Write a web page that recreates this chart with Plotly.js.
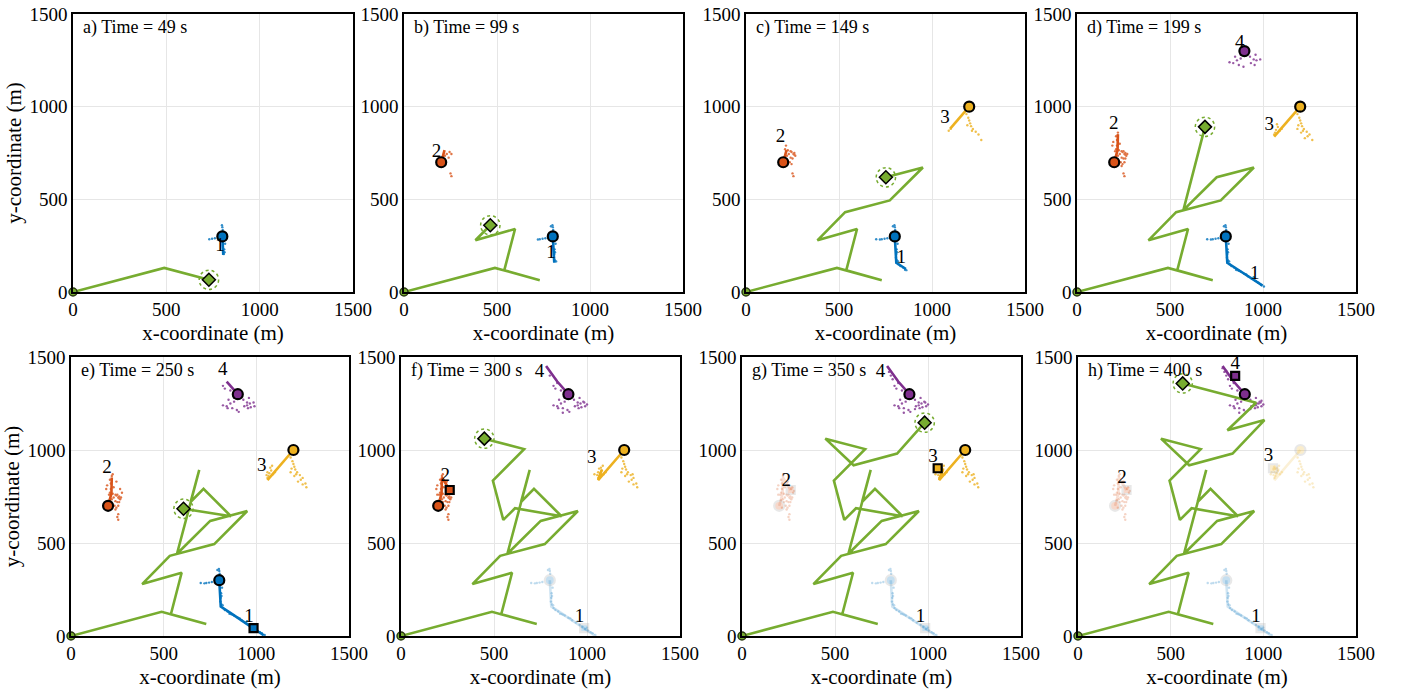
<!DOCTYPE html>
<html>
<head>
<meta charset="utf-8">
<script src="https://cdn.plot.ly/plotly-3.0.1.min.js"></script>
<style>html,body{margin:0;padding:0;background:#fff}#chart{width:1405px;height:694px}</style>
</head>
<body>
<div id="chart"></div>
<script>
// ---------- data ----------
const panelLetters = ['a','b','c','d','e','f','g','h'];
const panelTimes = [49, 99, 149, 199, 250, 300, 350, 400];
const tickVals = [0, 500, 1000, 1500];

// UAV path waypoints (full flight)
const pathX = [0, 489, 730, 539, 597, 384, 533, 773, 951, 751, 572, 692, 646, 715, 863, 613, 550, 494, 662, 448, 600, 834, 1006, 806, 961, 565];
const pathY = [0, 130, 64, 117, 340, 279, 431, 494, 672, 619, 442, 893, 722, 791, 644, 687, 624, 835, 1005, 1061, 918, 981, 1161, 1106, 1254, 1358];
// waypoints already flown in each panel and current UAV position
const pathVisited = [2, 6, 9, 11, 15, 19, 22, 25];
const uavX = [728, 464, 752, 688, 607, 448, 982, 565];
const uavY = [66, 360, 619, 891, 684, 1061, 1147, 1358];

// targets (true positions)
const targetX = [800, 200, 1200, 900];
const targetY = [300, 700, 1000, 1300];
const targetNames = ['1', '2', '3', '4'];
const targetColors = ['#0072BD', '#D95319', '#EDB120', '#7E2F8E'];
const targetAppear = [0, 1, 2, 3];   // first panel index where a target shows
const targetFade = [5, 6, 7, 99];    // first panel index where a target is faded

// estimated tracks
const track1X = [800, 805, 808, 860, 998, 1040];
const track1Y = [300, 200, 158, 124, 34, 4];
const track1Count = [2, 3, 4, 5, 6, 6, 6, 6];
const track2X = [200, 218, 220, 262];
const track2Y = [700, 765, 852, 785];
const track2Count = [0, 2, 2, 3, 3, 4, 4, 4];
const track3X = [1200, 1098, 1060, 1080, 1050];
const track3Y = [1000, 882, 838, 895, 905];
const track3Count = [0, 0, 2, 3, 3, 4, 5, 5];
const track4X = [900, 840, 780];
const track4Y = [1300, 1368, 1452];
const track4Count = [0, 0, 0, 1, 2, 3, 3, 3];

// localisation squares
const squareX = [985, 262, 1052, 848];
const squareY = [42, 785, 902, 1399];
const squarePanel = [4, 5, 6, 7];

// target number label positions per panel (null = not shown)
const label1X = [787, 790, 835, 955, 960, 960, 960, 960];
const label1Y = [245, 210, 180, 95, 100, 100, 100, 100];
const label2X = [null, 175, 186, 197, 194, 238, 238, 237];
const label2Y = [null, 756, 835, 905, 900, 860, 833, 848];
const label3X = [null, null, 1070, 1034, 1029, 1026, 1027, 1028];
const label3Y = [null, null, 935, 900, 910, 958, 959, 965];
const label4X = [null, null, null, 875, 819, 745, 744, 848];
const label4Y = [null, null, null, 1342, 1427, 1419, 1416, 1459];

// particle clouds (chronological) and how many are shown per panel
const part1X = [800, 802, 798, 760, 745, 730, 810, 812, 808, 815, 812, 818, 806, 790, 720, 830, 845, 855, 862, 820, 700, 880, 900, 920, 940, 960, 975, 990, 870, 910, 950, 1005, 1030, 1045, 1020, 1000];
const part1Y = [350, 335, 360, 290, 287, 285, 230, 215, 205, 260, 170, 165, 185, 355, 283, 140, 132, 120, 118, 150, 285, 110, 98, 85, 72, 60, 50, 38, 115, 95, 80, 30, 15, 5, 20, 45];
const part1Count = [10, 15, 21, 32, 36, 36, 36, 36];
const part2X = [230, 245, 255, 220, 240, 250, 255, 210, 215, 225, 240, 260, 265, 250, 235, 245, 260, 215, 210, 220, 195, 190, 230, 250, 270, 255, 240, 260, 205, 225, 245, 265, 275, 210, 255, 245, 270, 280, 195, 225, 215];
const part2Y = [745, 755, 745, 735, 725, 640, 625, 770, 790, 765, 760, 740, 735, 720, 700, 690, 750, 820, 840, 860, 810, 790, 800, 760, 745, 700, 680, 720, 760, 870, 830, 790, 770, 730, 655, 830, 800, 780, 760, 720, 690];
const part2Count = [0, 7, 17, 29, 35, 41, 41, 41];
const part3X = [1185, 1195, 1200, 1205, 1210, 1220, 1235, 1250, 1265, 1190, 1215, 1100, 1090, 1060, 1070, 1080, 1075, 1065, 1240, 1225, 1205, 1185, 1085, 1060, 1055, 1250, 1270, 1065, 1040, 1245, 1045, 1055, 1060];
const part3Y = [960, 940, 925, 910, 895, 880, 865, 850, 820, 900, 870, 880, 870, 850, 875, 890, 905, 860, 840, 830, 860, 880, 915, 880, 865, 815, 800, 900, 870, 870, 880, 895, 910];
const part3Count = [0, 0, 13, 22, 27, 30, 33, 33];
const part4X = [820, 840, 860, 880, 905, 930, 950, 965, 985, 870, 895, 935, 955, 850, 880, 960, 920, 830, 860, 880, 950, 970, 990, 845, 905, 820, 800, 840, 980, 1000, 870, 790, 810, 930, 780, 800, 960, 975, 990];
const part4Y = [1240, 1235, 1250, 1260, 1275, 1270, 1255, 1250, 1255, 1225, 1215, 1235, 1225, 1270, 1280, 1280, 1285, 1330, 1320, 1310, 1240, 1230, 1235, 1225, 1205, 1345, 1400, 1360, 1260, 1245, 1200, 1420, 1380, 1220, 1440, 1425, 1240, 1250, 1265];
const part4Count = [0, 0, 0, 17, 26, 31, 34, 39];

// ---------- layout geometry (pixels) ----------
const W = 1405, H = 694;
const boxes = [
  [73, 353, 14, 292], [404, 683, 14, 292], [746, 1025, 14, 292], [1077, 1356, 14, 292],
  [71, 349, 357, 636], [401, 680, 357, 636], [742, 1021, 357, 636], [1078, 1356, 357, 636]
];

const FONT = 'Liberation Serif, Times New Roman, serif';
const GREEN = '#77AC30';

const tracksX = [track1X, track2X, track3X, track4X];
const tracksY = [track1Y, track2Y, track3Y, track4Y];
const trackCounts = [track1Count, track2Count, track3Count, track4Count];
const labelsX = [label1X, label2X, label3X, label4X];
const labelsY = [label1Y, label2Y, label3Y, label4Y];
const partsX = [part1X, part2X, part3X, part4X];
const partsY = [part1Y, part2Y, part3Y, part4Y];
const partCounts = [part1Count, part2Count, part3Count, part4Count];

const traces = [];
const layout = {
  width: W, height: H,
  margin: {l: 0, r: 0, t: 0, b: 0},
  paper_bgcolor: '#ffffff', plot_bgcolor: '#ffffff',
  showlegend: false,
  font: {family: FONT, color: '#000'},
  annotations: [], shapes: []
};

for (let p = 0; p < 8; p++) {
  const n = p + 1;
  const xa = n === 1 ? 'x' : 'x' + n;
  const ya = n === 1 ? 'y' : 'y' + n;
  const b = boxes[p];
  const axCommon = {
    range: [0, 1500], tickvals: tickVals, ticktext: tickVals.map(String),
    showgrid: true, gridcolor: '#e6e6e6', gridwidth: 1,
    zeroline: false, showline: true, linecolor: '#000', linewidth: 1.6,
    mirror: true, ticks: '', tickfont: {family: FONT, size: 19, color: '#000'},
    fixedrange: true
  };
  layout[n === 1 ? 'xaxis' : 'xaxis' + n] = Object.assign({}, axCommon, {
    domain: [b[0] / W, b[1] / W], anchor: ya,
    title: {text: 'x-coordinate (m)', font: {family: FONT, size: 21, color: '#000'}, standoff: 6}
  });
  layout[n === 1 ? 'yaxis' : 'yaxis' + n] = Object.assign({}, axCommon, {
    domain: [1 - b[3] / H, 1 - b[2] / H], anchor: xa,
    title: (p === 0 || p === 4) ? {text: 'y-coordinate (m)', font: {family: FONT, size: 21, color: '#000'}, standoff: 2} : {text: ''}
  });

  const pLayers = [], tLayers = [], mLayers = [], sLayers = [], lLayers = [];

  for (let t = 0; t < 4; t++) {
    if (p < targetAppear[t]) continue;
    const faded = p >= targetFade[t];
    const op = faded ? 0.18 : 1;
    const col = targetColors[t];
    const pc = partCounts[t][p];
    if (pc > 0) {
      pLayers.push({
        x: partsX[t].slice(0, pc), y: partsY[t].slice(0, pc), xaxis: xa, yaxis: ya,
        type: 'scatter', mode: 'markers', hoverinfo: 'skip', opacity: faded ? 0.25 : 0.8,
        marker: {size: 2.4, color: col, line: {width: 0}}
      });
    }
    const tc = trackCounts[t][p];
    if (tc > 1) {
      tLayers.push({
        x: tracksX[t].slice(0, tc), y: tracksY[t].slice(0, tc), xaxis: xa, yaxis: ya,
        type: 'scatter', mode: 'lines', hoverinfo: 'skip', opacity: op,
        line: {color: col, width: 2.6}
      });
    }
    mLayers.push({
      x: [targetX[t]], y: [targetY[t]], xaxis: xa, yaxis: ya,
      type: 'scatter', mode: 'markers', hoverinfo: 'skip', opacity: faded ? 0.22 : 1,
      marker: {symbol: 'circle', size: 10, color: col, line: {color: faded ? '#9a9a9a' : '#000', width: 2.2}}
    });
    if (p >= squarePanel[t]) {
      sLayers.push({
        x: [squareX[t]], y: [squareY[t]], xaxis: xa, yaxis: ya,
        type: 'scatter', mode: 'markers', hoverinfo: 'skip', opacity: faded ? 0.22 : 1,
        marker: {symbol: 'square', size: 8, color: col, line: {color: faded ? '#9a9a9a' : '#000', width: 2.2}}
      });
    }
    if (labelsX[t][p] !== null) {
      lLayers.push({
        x: [labelsX[t][p]], y: [labelsY[t][p]], xaxis: xa, yaxis: ya,
        type: 'scatter', mode: 'text', text: [targetNames[t]], hoverinfo: 'skip',
        textposition: 'middle center', textfont: {family: FONT, size: 19, color: '#000'}
      });
    }
  }

  const k = pathVisited[p];
  const px = pathX.slice(0, k).concat([uavX[p]]);
  const py = pathY.slice(0, k).concat([uavY[p]]);

  traces.push(...pLayers, ...tLayers);
  traces.push({
    x: px, y: py, xaxis: xa, yaxis: ya, type: 'scatter', mode: 'lines', hoverinfo: 'skip',
    line: {color: GREEN, width: 2.6}
  });
  traces.push(...mLayers, ...sLayers);
  traces.push({
    x: [pathX[0]], y: [pathY[0]], xaxis: xa, yaxis: ya, type: 'scatter', mode: 'markers',
    hoverinfo: 'skip', cliponaxis: false,
    marker: {symbol: 'circle', size: 8, color: GREEN, line: {color: '#2b3a12', width: 1.5}}
  });
  traces.push({
    x: [uavX[p]], y: [uavY[p]], xaxis: xa, yaxis: ya, type: 'scatter', mode: 'markers',
    hoverinfo: 'skip',
    marker: {symbol: 'diamond', size: 10, color: GREEN, line: {color: '#000', width: 1.5}}
  });
  traces.push(...lLayers);

  const r = 52;
  layout.shapes.push({
    type: 'circle', xref: xa, yref: ya,
    x0: uavX[p] - r, x1: uavX[p] + r, y0: uavY[p] - r, y1: uavY[p] + r,
    line: {color: GREEN, width: 1.5, dash: 'dot'}
  });

  layout.annotations.push({
    xref: xa + ' domain', yref: ya + ' domain', x: 0.028, y: 0.952,
    xanchor: 'left', yanchor: 'middle', showarrow: false,
    text: panelLetters[p] + ') Time = ' + panelTimes[p] + ' s',
    font: {family: FONT, size: 18, color: '#000'}
  });
}

Plotly.newPlot('chart', traces, layout, {displayModeBar: false, staticPlot: true});
</script>
</body>
</html>
